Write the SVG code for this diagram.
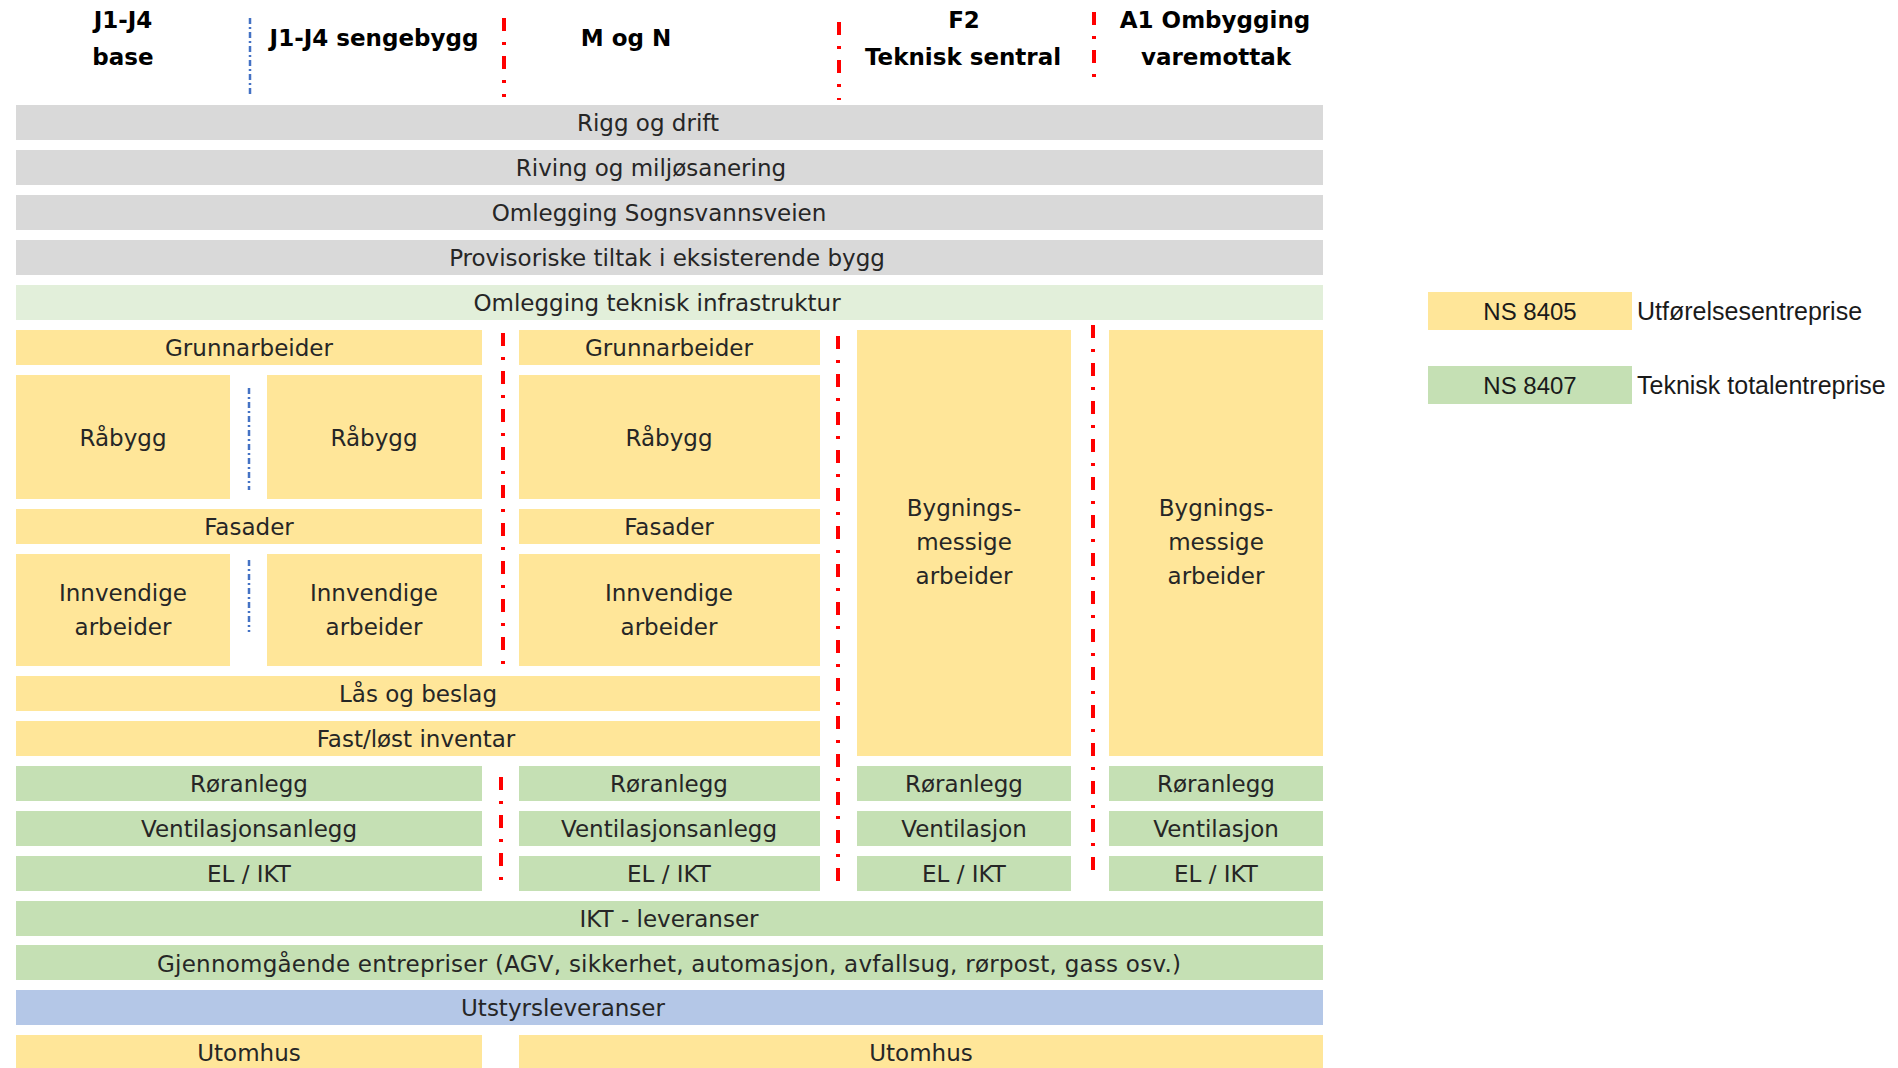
<svg xmlns="http://www.w3.org/2000/svg" width="1898" height="1068" viewBox="0 0 1898 1068">
<style>
  .gy{fill:#D9D9D9}
  .lg{fill:#E2EFDA}
  .ye{fill:#FFE699}
  .gr{fill:#C5E0B4}
  .bl{fill:#B4C7E7}
  text{font-family:"DejaVu Sans",sans-serif;font-size:23px;fill:#262626;text-anchor:middle}
  text.h{font-weight:bold;fill:#000}
  text.leg{font-family:"Liberation Sans",Arial,sans-serif;font-size:25px;text-anchor:start;fill:#1a1a1a}
  text.ns{font-family:"Liberation Sans",Arial,sans-serif;font-size:24px;fill:#1a1a1a}
  .red{stroke:#FF0000;stroke-width:4;stroke-dasharray:13 11 3 11;fill:none}
  .blu{stroke:#4472C4;stroke-width:2.5;stroke-dasharray:6 3 2 3;fill:none}
</style>
<rect width="1898" height="1068" fill="#fff"/>

<g id="headers">
  <g id="h-j1j4base"><text class="h" x="123" y="28">J1-J4</text><text class="h" x="123" y="65">base</text></g>
  <g id="h-sengebygg"><text class="h" x="374" y="46">J1-J4 sengebygg</text></g>
  <g id="h-mogn"><text class="h" x="626" y="46">M og N</text></g>
  <g id="h-f2"><text class="h" x="964" y="28">F2</text><text class="h" x="963" y="65">Teknisk sentral</text></g>
  <g id="h-a1"><text class="h" x="1215" y="28">A1 Ombygging</text><text class="h" x="1216" y="65">varemottak</text></g>
</g>

<g id="rigg"><rect class="gy" x="16" y="105" width="1307" height="35"/><text x="648" y="131">Rigg og drift</text></g>
<g id="riving"><rect class="gy" x="16" y="150" width="1307" height="35"/><text x="651" y="176">Riving og miljøsanering</text></g>
<g id="sognsvann"><rect class="gy" x="16" y="195" width="1307" height="35"/><text x="659" y="221">Omlegging Sognsvannsveien</text></g>
<g id="provisoriske"><rect class="gy" x="16" y="240" width="1307" height="35"/><text x="667" y="266">Provisoriske tiltak i eksisterende bygg</text></g>
<g id="teknisk-infra"><rect class="lg" x="16" y="285" width="1307" height="35"/><text x="657" y="311">Omlegging teknisk infrastruktur</text></g>

<g id="grunn-j"><rect class="ye" x="16" y="330" width="466" height="35"/><text x="249" y="356">Grunnarbeider</text></g>
<g id="grunn-mn"><rect class="ye" x="519" y="330" width="301" height="35"/><text x="669" y="356">Grunnarbeider</text></g>

<g id="rabygg-base"><rect class="ye" x="16" y="375" width="214" height="124"/><text x="123" y="446">Råbygg</text></g>
<g id="rabygg-seng"><rect class="ye" x="267" y="375" width="215" height="124"/><text x="374" y="446">Råbygg</text></g>
<g id="rabygg-mn"><rect class="ye" x="519" y="375" width="301" height="124"/><text x="669" y="446">Råbygg</text></g>

<g id="fasader-j"><rect class="ye" x="16" y="509" width="466" height="35"/><text x="249" y="535">Fasader</text></g>
<g id="fasader-mn"><rect class="ye" x="519" y="509" width="301" height="35"/><text x="669" y="535">Fasader</text></g>

<g id="innv-base"><rect class="ye" x="16" y="554" width="214" height="112"/><text x="123" y="601">Innvendige</text><text x="123" y="635">arbeider</text></g>
<g id="innv-seng"><rect class="ye" x="267" y="554" width="215" height="112"/><text x="374" y="601">Innvendige</text><text x="374" y="635">arbeider</text></g>
<g id="innv-mn"><rect class="ye" x="519" y="554" width="301" height="112"/><text x="669" y="601">Innvendige</text><text x="669" y="635">arbeider</text></g>

<g id="bygn-f2"><rect class="ye" x="857" y="330" width="214" height="426"/><text x="964" y="516">Bygnings-</text><text x="964" y="550">messige</text><text x="964" y="584">arbeider</text></g>
<g id="bygn-a1"><rect class="ye" x="1109" y="330" width="214" height="426"/><text x="1216" y="516">Bygnings-</text><text x="1216" y="550">messige</text><text x="1216" y="584">arbeider</text></g>

<g id="laas"><rect class="ye" x="16" y="676" width="804" height="35"/><text x="418" y="702">Lås og beslag</text></g>
<g id="inventar"><rect class="ye" x="16" y="721" width="804" height="35"/><text x="416" y="747">Fast/løst inventar</text></g>

<g id="ror-j"><rect class="gr" x="16" y="766" width="466" height="35"/><text x="249" y="792">Røranlegg</text></g>
<g id="ror-mn"><rect class="gr" x="519" y="766" width="301" height="35"/><text x="669" y="792">Røranlegg</text></g>
<g id="ror-f2"><rect class="gr" x="857" y="766" width="214" height="35"/><text x="964" y="792">Røranlegg</text></g>
<g id="ror-a1"><rect class="gr" x="1109" y="766" width="214" height="35"/><text x="1216" y="792">Røranlegg</text></g>

<g id="vent-j"><rect class="gr" x="16" y="811" width="466" height="35"/><text x="249" y="837">Ventilasjonsanlegg</text></g>
<g id="vent-mn"><rect class="gr" x="519" y="811" width="301" height="35"/><text x="669" y="837">Ventilasjonsanlegg</text></g>
<g id="vent-f2"><rect class="gr" x="857" y="811" width="214" height="35"/><text x="964" y="837">Ventilasjon</text></g>
<g id="vent-a1"><rect class="gr" x="1109" y="811" width="214" height="35"/><text x="1216" y="837">Ventilasjon</text></g>

<g id="el-j"><rect class="gr" x="16" y="856" width="466" height="35"/><text x="249" y="882">EL / IKT</text></g>
<g id="el-mn"><rect class="gr" x="519" y="856" width="301" height="35"/><text x="669" y="882">EL / IKT</text></g>
<g id="el-f2"><rect class="gr" x="857" y="856" width="214" height="35"/><text x="964" y="882">EL / IKT</text></g>
<g id="el-a1"><rect class="gr" x="1109" y="856" width="214" height="35"/><text x="1216" y="882">EL / IKT</text></g>

<g id="ikt"><rect class="gr" x="16" y="901" width="1307" height="35"/><text x="669" y="927">IKT - leveranser</text></g>
<g id="gjennomgaende"><rect class="gr" x="16" y="945" width="1307" height="35"/><text x="669" y="972" textLength="1024">Gjennomgående entrepriser (AGV, sikkerhet, automasjon, avfallsug, rørpost, gass osv.)</text></g>
<g id="utstyr"><rect class="bl" x="16" y="990" width="1307" height="35"/><text x="563" y="1016">Utstyrsleveranser</text></g>
<g id="utomhus-j"><rect class="ye" x="16" y="1035" width="466" height="40"/><text x="249" y="1061">Utomhus</text></g>
<g id="utomhus-r"><rect class="ye" x="519" y="1035" width="804" height="40"/><text x="921" y="1061">Utomhus</text></g>

<g id="legend">
  <g id="leg-8405"><rect class="ye" x="1428" y="292" width="204" height="38"/><text class="ns" x="1530" y="320">NS 8405</text><text class="leg" x="1637" y="320">Utførelsesentreprise</text></g>
  <g id="leg-8407"><rect class="gr" x="1428" y="366" width="204" height="38"/><text class="ns" x="1530" y="394">NS 8407</text><text class="leg" x="1637" y="394">Teknisk totalentreprise</text></g>
</g>

<g id="dividers">
  <line class="blu" x1="250" y1="18" x2="250" y2="97"/>
  <line class="blu" x1="249" y1="388" x2="249" y2="490"/>
  <line class="blu" x1="249" y1="560" x2="249" y2="632"/>
  <line class="red" x1="504" y1="18" x2="504" y2="97"/>
  <line class="red" x1="503" y1="333" x2="503" y2="666"/>
  <line class="red" x1="501" y1="777" x2="501" y2="882"/>
  <line class="red" x1="839" y1="22" x2="839" y2="100"/>
  <line class="red" x1="838" y1="336" x2="838" y2="882"/>
  <line class="red" x1="1094" y1="12" x2="1094" y2="88"/>
  <line class="red" x1="1093" y1="325" x2="1093" y2="870"/>
</g>
</svg>
